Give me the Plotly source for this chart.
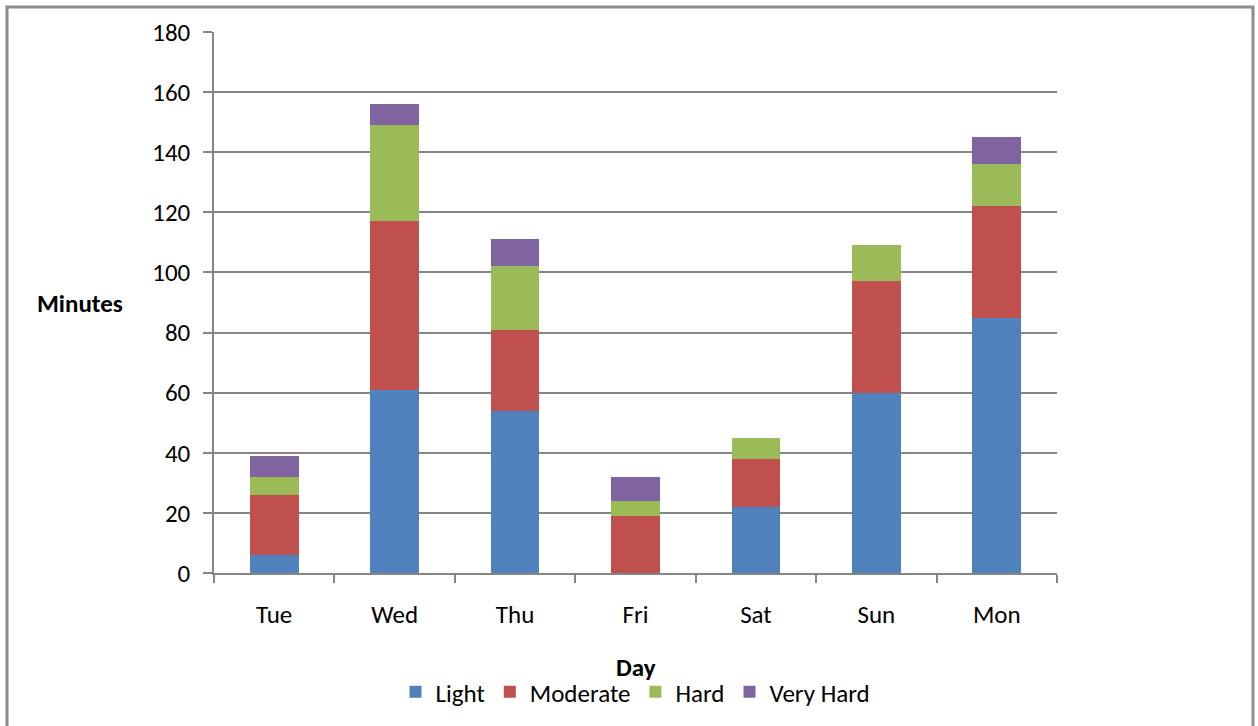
import plotly.graph_objects as go

days = ["Tue", "Wed", "Thu", "Fri", "Sat", "Sun", "Mon"]
light = [6, 61, 54, 0, 22, 60, 85]
moderate = [20, 56, 27, 19, 16, 37, 37]
hard = [6, 32, 21, 5, 7, 12, 14]
very_hard = [7, 7, 9, 8, 0, 0, 9]

series = [
    ("Light", light, "#4F81BD"),
    ("Moderate", moderate, "#C0504D"),
    ("Hard", hard, "#9BBB59"),
    ("Very Hard", very_hard, "#8064A2"),
]

FONT = "Carlito, Lato, sans-serif"
FS = 25
W, H = 1258, 726
L, R, T, B = 214, 1057, 32, 573

fig = go.Figure()
for name, vals, color in series:
    fig.add_trace(go.Bar(
        x=days, y=vals, name=name,
        marker=dict(color=color, line=dict(width=0)),
        width=0.405,
    ))

pw = R - L
ph = B - T

def px_x(p):
    return (p - L) / pw

def px_y(p):
    return (B - p) / ph

fig.update_layout(
    barmode="stack",
    width=W, height=H,
    margin=dict(l=L, r=W - R, t=T, b=H - B, autoexpand=False),
    paper_bgcolor="white",
    plot_bgcolor="white",
    font=dict(family=FONT, size=FS, color="#000000"),
    showlegend=True,
    legend=dict(
        orientation="h",
        x=0.5, xanchor="center",
        y=px_y(692), yanchor="middle",
        font=dict(family=FONT, size=FS, color="#000000"),
        itemwidth=30,
        traceorder="normal",
    ),
    xaxis=dict(
        showgrid=False,
        showline=True, linecolor="#868686", linewidth=1.5,
        ticks="outside", tickson="boundaries", ticklen=8,
        tickcolor="#868686", tickwidth=1.5,
        tickfont=dict(family=FONT, size=FS),
        ticklabelstandoff=18,
    ),
    yaxis=dict(
        range=[0, 180], dtick=20,
        showgrid=True, gridcolor="#868686", gridwidth=1.5,
        showline=True, linecolor="#868686", linewidth=1.5,
        ticks="outside", ticklen=9,
        tickcolor="#868686", tickwidth=1.5,
        tickfont=dict(family=FONT, size=FS),
        ticklabelstandoff=8,
        zeroline=False,
    ),
    annotations=[
        dict(text="<b>Minutes</b>", x=px_x(80), y=px_y(303), xref="paper", yref="paper",
             showarrow=False, font=dict(family=FONT, size=FS), xanchor="center", yanchor="middle"),
        dict(text="<b>Day</b>", x=0.5, y=px_y(667), xref="paper", yref="paper",
             showarrow=False, font=dict(family=FONT, size=FS), xanchor="center", yanchor="middle"),
    ],
    shapes=[
        dict(type="rect", xref="paper", yref="paper",
             x0=px_x(7), x1=px_x(1253), y0=px_y(740), y1=px_y(7),
             line=dict(color="#8C8C8C", width=3), fillcolor="rgba(0,0,0,0)", layer="above"),
    ],
)

fig.write_html(
    "out.html",
    config={"displayModeBar": False},
    post_script="document.body.style.margin='0';document.body.style.overflow='hidden';",
)
